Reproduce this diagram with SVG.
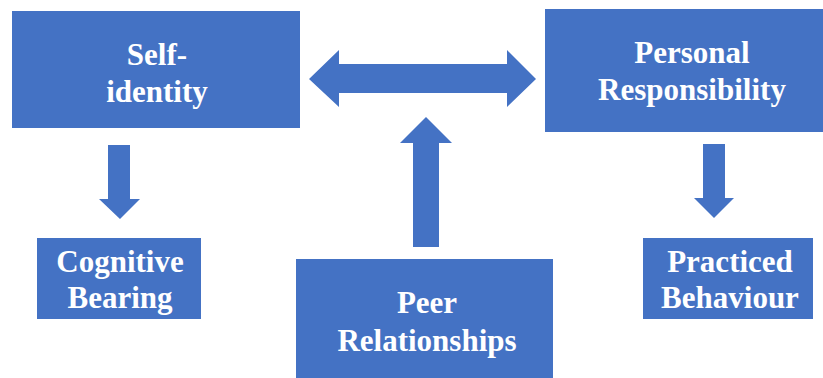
<svg xmlns="http://www.w3.org/2000/svg" width="823" height="378" viewBox="0 0 823 378">
  <style>
    .box { fill: #4472C4; }
    .arrow { fill: #4472C4; }
    .label { fill: #FFFFFF; font-family: "Liberation Serif", "Times New Roman", serif; font-weight: bold; font-size: 31px; text-anchor: middle; }
  </style>
  <rect width="823" height="378" fill="#FFFFFF"/>

  <g id="self-identity">
    <rect class="box" x="12" y="11" width="288" height="117"/>
    <text class="label" x="157" y="65">Self-</text>
    <text class="label" x="157" y="102">identity</text>
  </g>

  <g id="personal-responsibility">
    <rect class="box" x="545" y="9" width="278" height="123"/>
    <text class="label" x="692" y="63">Personal</text>
    <text class="label" x="692" y="100">Responsibility</text>
  </g>

  <g id="cognitive-bearing">
    <rect class="box" x="37" y="238" width="164" height="81"/>
    <text class="label" x="120" y="272">Cognitive</text>
    <text class="label" x="120" y="308">Bearing</text>
  </g>

  <g id="practiced-behaviour">
    <rect class="box" x="643" y="238" width="170" height="81"/>
    <text class="label" x="730" y="272">Practiced</text>
    <text class="label" x="730" y="308">Behaviour</text>
  </g>

  <g id="peer-relationships">
    <rect class="box" x="296" y="259" width="257" height="119"/>
    <text class="label" x="427" y="313">Peer</text>
    <text class="label" x="427" y="351">Relationships</text>
  </g>

  <g id="connectors">
    <!-- two-way arrow between the top boxes -->
    <polygon class="arrow" points="309,79 339,50 339,64 507,64 507,50 536,79 507,107 507,93 339,93 339,107"/>
    <!-- upward arrow from Peer Relationships -->
    <polygon class="arrow" points="426,117 452,143 439,143 439,247 413,247 413,143 400,143"/>
    <!-- downward arrow to Cognitive Bearing -->
    <polygon class="arrow" points="108,145 130,145 130,199 140,199 120,219 99,199 108,199"/>
    <!-- downward arrow to Practiced Behaviour -->
    <polygon class="arrow" points="703,144 725,144 725,198 734,198 714,218 694,198 703,198"/>
  </g>
</svg>
